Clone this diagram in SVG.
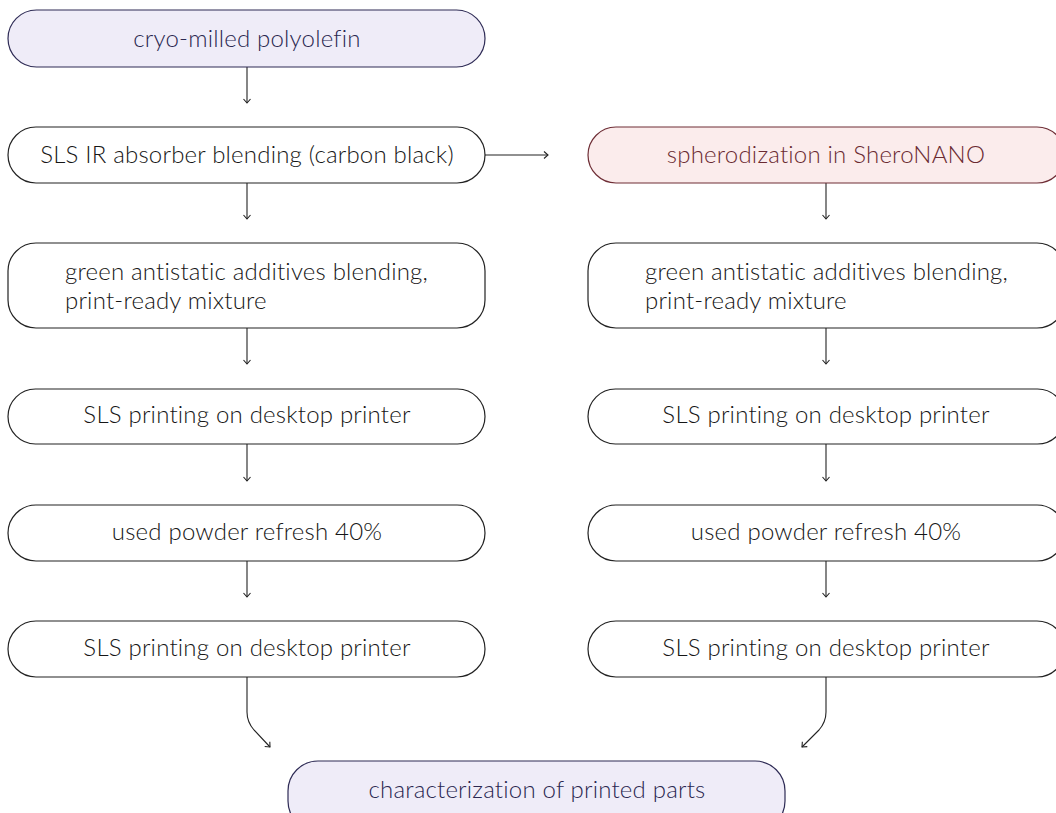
<svg xmlns="http://www.w3.org/2000/svg" width="1056" height="813" viewBox="0 0 1056 813">
<style>
.box{fill:#ffffff;stroke:#222222;stroke-width:1.2}
.start{fill:#efecf8;stroke:#2e2b55;stroke-width:1.2}
.sph{fill:#fbecec;stroke:#6e2d35;stroke-width:1.2}
.t{font-family:Lato,"Noto Sans",sans-serif;font-weight:300;font-size:24px;letter-spacing:0.2px;fill:#161616}
.tc{text-anchor:middle}
.tn{fill:#2a2750}
.tr{fill:#6a2a31}
.c{fill:none;stroke:#222222;stroke-width:1.1}
</style>
<defs>
<marker id="ah" markerWidth="10" markerHeight="10" refX="7" refY="5" orient="auto" markerUnits="userSpaceOnUse">
<path d="M3,1.5 L7,5 L3,8.5" fill="none" stroke="#222222" stroke-width="1.1"/>
</marker>
</defs>
<g id="connectors">
<path class="c" d="M247,67 V103" marker-end="url(#ah)"/>
<path class="c" d="M485,155 H548" marker-end="url(#ah)"/>
<path class="c" d="M247,183 V219" marker-end="url(#ah)"/>
<path class="c" d="M247,328 V364" marker-end="url(#ah)"/>
<path class="c" d="M247,444 V481" marker-end="url(#ah)"/>
<path class="c" d="M247,561 V597" marker-end="url(#ah)"/>
<path class="c" d="M826,183 V219" marker-end="url(#ah)"/>
<path class="c" d="M826,328 V364" marker-end="url(#ah)"/>
<path class="c" d="M826,444 V481" marker-end="url(#ah)"/>
<path class="c" d="M826,561 V597" marker-end="url(#ah)"/>
<path class="c" d="M247,677 V712 Q247,722 254,730 L270,747" marker-end="url(#ah)"/>
<path class="c" d="M826,677 V712 Q826,722 819,730 L802,747" marker-end="url(#ah)"/>
</g>
<g id="n1"><rect class="start" x="8" y="10" width="477" height="57" rx="28.5"/><text class="t tc tn" x="247" y="47">cryo-milled polyolefin</text></g>
<g id="n2"><rect class="box" x="8" y="127" width="477" height="56" rx="28"/><text class="t tc" x="247" y="163">SLS IR absorber blending (carbon black)</text></g>
<g id="n3"><rect class="box" x="8" y="243" width="477" height="85" rx="28"/><text class="t" x="65" y="280">green antistatic additives blending,</text><text class="t" x="65" y="309">print-ready mixture</text></g>
<g id="n4"><rect class="box" x="8" y="389" width="477" height="55" rx="27.5"/><text class="t tc" x="247" y="423">SLS printing on desktop printer</text></g>
<g id="n5"><rect class="box" x="8" y="505" width="477" height="56" rx="28"/><text class="t tc" x="247" y="540">used powder refresh 40%</text></g>
<g id="n6"><rect class="box" x="8" y="621" width="477" height="56" rx="28"/><text class="t tc" x="247" y="656">SLS printing on desktop printer</text></g>
<g id="r1"><rect class="sph" x="588" y="127" width="477" height="56" rx="28"/><text class="t tc tr" x="826" y="163">spherodization in SheroNANO</text></g>
<g id="r2"><rect class="box" x="588" y="243" width="477" height="85" rx="28"/><text class="t" x="645" y="280">green antistatic additives blending,</text><text class="t" x="645" y="309">print-ready mixture</text></g>
<g id="r3"><rect class="box" x="588" y="389" width="477" height="55" rx="27.5"/><text class="t tc" x="826" y="423">SLS printing on desktop printer</text></g>
<g id="r4"><rect class="box" x="588" y="505" width="477" height="56" rx="28"/><text class="t tc" x="826" y="540">used powder refresh 40%</text></g>
<g id="r5"><rect class="box" x="588" y="621" width="477" height="56" rx="28"/><text class="t tc" x="826" y="656">SLS printing on desktop printer</text></g>
<g id="end"><rect class="start" x="288" y="761" width="497" height="70" rx="30"/><text class="t tc tn" x="537" y="798">characterization of printed parts</text></g>
</svg>
